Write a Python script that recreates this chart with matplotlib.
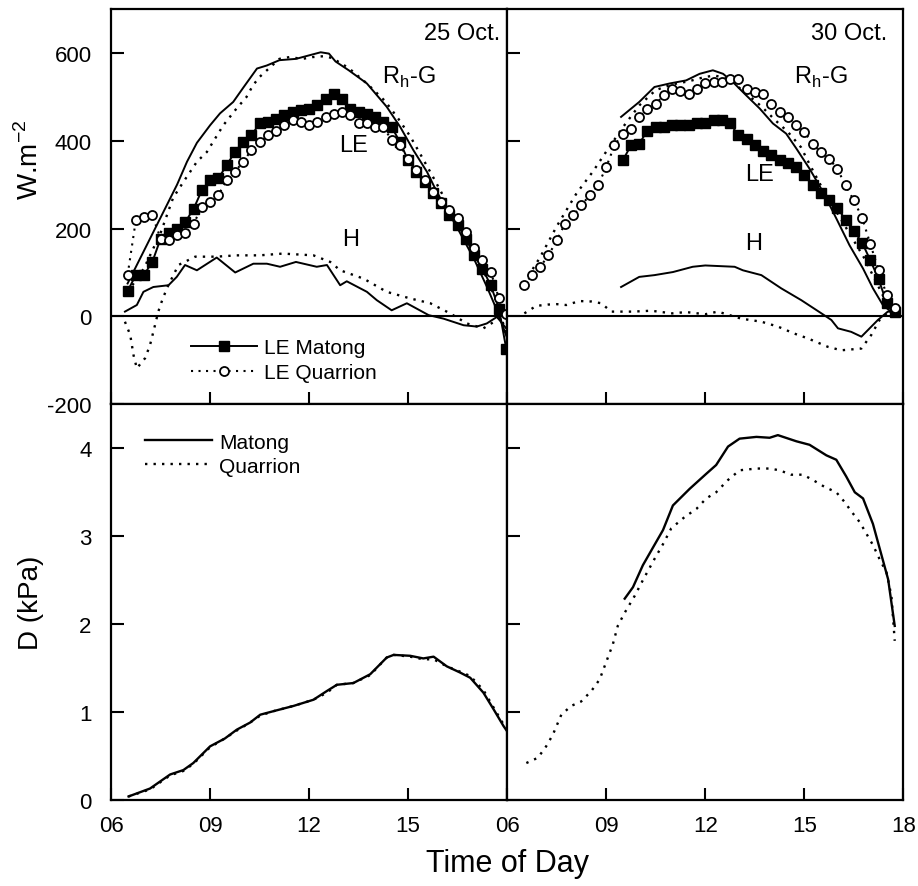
import matplotlib
matplotlib.use("Agg")
import matplotlib.pyplot as plt
from matplotlib.lines import Line2D

plt.rcParams["font.family"] = ["Liberation Sans", "DejaVu Sans"]
plt.rcParams["mathtext.fontset"] = "custom"
plt.rcParams["mathtext.rm"] = "Liberation Sans"

# ---- 25 Oct: energy fluxes (W m-2) ----
le_hours_25 = [6.5, 6.75, 7.0, 7.25, 7.5, 7.75, 8.0, 8.25, 8.5, 8.75, 9.0, 9.25, 9.5, 9.75,
               10.0, 10.25, 10.5, 10.75, 11.0, 11.25, 11.5, 11.75, 12.0, 12.25, 12.5, 12.75,
               13.0, 13.25, 13.5, 13.75, 14.0, 14.25, 14.5, 14.75, 15.0, 15.25, 15.5, 15.75,
               16.0, 16.25, 16.5, 16.75, 17.0, 17.25, 17.5, 17.75, 17.97]
le_matong_25 = [58, 94, 95, 124, 177, 189, 200, 215, 245, 287, 310, 314, 344, 374,
                397, 412, 439, 442, 450, 458, 465, 469, 473, 480, 495, 507,
                495, 473, 465, 461, 454, 442, 431, 397, 355, 329, 306, 280,
                257, 230, 208, 177, 139, 109, 71, 18, -73]
le_quarrion_25 = [94, 219, 227, 230, 177, 173, 185, 189, 211, 249, 261, 276, 310, 329,
                  352, 378, 397, 412, 423, 435, 446, 442, 435, 442, 454, 461,
                  465, 458, 439, 439, 431, 431, 401, 389, 359, 333, 310, 283,
                  261, 242, 223, 192, 155, 128, 102, 41, 5]

rn_hours_m25 = [6.5, 7.0, 7.5, 8.0, 8.3, 8.6, 9.0, 9.3, 9.7, 10.0, 10.42, 10.72, 11.1, 11.6,
                12.0, 12.35, 12.6, 12.8, 13.2, 13.75, 14.35, 14.76, 15.16, 15.57, 15.87,
                16.5, 17.0, 17.4, 17.74, 18.0]
rn_matong_25 = [75, 150, 225, 300, 352, 395, 435, 462, 488, 520, 564, 571, 583, 586,
                594, 601, 598, 580, 560, 530, 477, 431, 378, 329, 283,
                200, 130, 65, 5, -50]
rn_hours_q25 = [6.5, 7.0, 7.5, 7.88, 8.19, 8.6, 8.9, 9.4, 9.8, 10.1, 10.3, 10.5, 11.1, 11.4,
                11.8, 12.1, 12.43, 12.7, 13.2, 13.75, 14.3, 14.7, 15.06, 15.4, 15.77, 16.2,
                16.6, 17.0, 17.4, 17.7, 17.97]
rn_quarrion_25 = [55, 110, 190, 270, 306, 352, 374, 435, 473, 499, 526, 545, 586, 590,
                  586, 590, 592, 588, 565, 530, 490, 450, 410, 365, 315, 255,
                  200, 145, 85, 30, -40]

h_hours_m25 = [6.42, 6.78, 6.98, 7.28, 7.74, 7.99, 8.24, 8.6, 9.2, 9.76, 10.31, 10.72, 11.12,
               11.6, 12.23, 12.54, 12.94, 13.14, 13.75, 14.05, 14.5, 14.96, 15.62, 16.07,
               16.68, 17.08, 17.38, 17.69, 18.0]
h_matong_25 = [11, 26, 56, 67, 71, 90, 117, 105, 134, 100, 120, 120, 113,
               124, 113, 117, 71, 80, 56, 37, 14, 30, 3, -5,
               -20, -23, -16, -1, -30]
h_hours_q25 = [6.42, 6.58, 6.68, 6.78, 7.03, 7.18, 7.33, 7.43, 7.53, 7.69, 8.04, 8.55, 9.2,
               9.8, 10.5, 11.2, 12.13, 12.64, 12.94, 13.65, 14.35, 15.06, 15.67, 16.27,
               16.78, 17.28, 17.69, 17.99]
h_quarrion_25 = [-12, -42, -88, -118, -95, -65, -20, 11, 33, 64, 117, 136, 136,
                 139, 139, 143, 139, 124, 105, 86, 56, 41, 30, 7,
                 -16, -27, -8, 11]

# ---- 30 Oct: energy fluxes (W m-2) ----
lq_hours_30 = [6.5, 6.75, 7.0, 7.25, 7.5, 7.75, 8.0, 8.25, 8.5, 8.75, 9.0, 9.25, 9.5, 9.75,
               10.0, 10.25, 10.5, 10.75, 11.0, 11.25, 11.5, 11.75, 12.0, 12.25, 12.5, 12.75,
               13.0, 13.25, 13.5, 13.75, 14.0, 14.25, 14.5, 14.75, 15.0, 15.25, 15.5, 15.75,
               16.0, 16.25, 16.5, 16.75, 17.0, 17.25, 17.5, 17.75]
le_quarrion_30 = [71, 94, 113, 139, 173, 211, 230, 253, 276, 298, 340, 389, 416, 427,
                  454, 473, 484, 503, 518, 514, 507, 518, 530, 533, 533, 541,
                  541, 518, 511, 507, 484, 465, 454, 435, 420, 393, 374, 359,
                  336, 298, 264, 225, 165, 105, 48, 20]
lm_hours_30 = [9.5, 9.75, 10.0, 10.25, 10.5, 10.75, 11.0, 11.25, 11.5, 11.75, 12.0, 12.25,
               12.5, 12.75, 13.0, 13.25, 13.5, 13.75, 14.0, 14.25, 14.5, 14.75, 15.0, 15.25,
               15.5, 15.75, 16.0, 16.25, 16.5, 16.75, 17.0, 17.25, 17.5, 17.75]
le_matong_30 = [355, 389, 393, 423, 431, 431, 435, 435, 435, 439, 441, 447,
                447, 440, 412, 403, 390, 376, 367, 357, 350, 340, 322, 300,
                281, 266, 247, 220, 195, 168, 128, 85, 30, 10]

rn_hours_m30 = [9.45, 10.0, 10.46, 10.92, 11.42, 11.83, 12.23, 12.54, 12.84, 13.24, 13.65,
                14.05, 14.45, 14.76, 15.16, 15.57, 15.97, 16.37, 16.78, 17.08, 17.38, 17.69]
rn_matong_30 = [454, 488, 522, 530, 537, 552, 560, 552, 533, 503, 473,
                439, 416, 382, 336, 283, 223, 162, 109, 64, 26, 7]
rn_hours_q30 = [6.5, 7.0, 7.5, 8.1, 8.6, 9.0, 9.5, 10.0, 10.5, 11.0, 11.5, 12.0, 12.3, 12.7,
                13.2, 13.7, 14.1, 14.5, 14.9, 15.1, 15.5, 16.0, 16.4, 16.8, 17.1, 17.4, 17.7]
rn_quarrion_30 = [75, 135, 205, 280, 330, 375, 430, 480, 515, 528, 535, 545, 548, 540,
                  510, 478, 448, 420, 385, 355, 298, 235, 185, 135, 90, 45, 10]

h_hours_m30 = [9.45, 10.0, 10.46, 11.02, 11.62, 12.0, 12.89, 13.14, 13.7, 14.3, 14.91, 15.52,
               15.82, 16.02, 16.42, 16.73, 17.23, 17.53, 17.7]
h_matong_30 = [67, 90, 94, 101, 113, 116, 113, 105, 94, 64, 37, 7,
               -8, -27, -35, -46, -8, 11, 10]
h_hours_q30 = [6.52, 6.88, 7.23, 7.5, 7.79, 8.19, 8.55, 8.85, 9.15, 9.8, 10.36, 11.0, 11.42,
               12.0, 12.38, 13.09, 13.7, 14.2, 14.7, 15.11, 15.71, 16.12, 16.73, 17.03,
               17.28, 17.53]
h_quarrion_30 = [7, 24, 27, 28, 26, 35, 34, 30, 11, 11, 13, 7, 10,
                 5, 11, -5, -12, -23, -39, -50, -69, -77, -73, -42,
                 -8, 7]

# ---- vapour pressure deficit D (kPa) ----
d_hours_m25 = [6.53, 7.18, 7.79, 8.19, 8.49, 9.0, 9.45, 9.81, 10.21, 10.52, 10.92, 11.53,
               12.13, 12.54, 12.84, 13.34, 13.85, 14.35, 14.56, 15.06, 15.46, 15.77, 16.17,
               16.57, 16.88, 17.28, 17.59, 17.89, 18.0]
d_matong_25 = [0.04, 0.13, 0.29, 0.34, 0.42, 0.61, 0.70, 0.80, 0.88, 0.97, 1.01, 1.07,
               1.14, 1.24, 1.31, 1.33, 1.43, 1.62, 1.65, 1.64, 1.61, 1.63, 1.52,
               1.45, 1.39, 1.22, 1.03, 0.84, 0.78]
d_quarrion_25 = [0.04, 0.12, 0.28, 0.33, 0.41, 0.60, 0.70, 0.79, 0.88, 0.96, 1.01, 1.07,
                 1.14, 1.22, 1.31, 1.33, 1.42, 1.62, 1.65, 1.63, 1.60, 1.60, 1.52,
                 1.46, 1.41, 1.25, 1.05, 0.86, 0.80]

d_hours_m30 = [9.56, 9.81, 10.11, 10.46, 10.72, 11.02, 11.53, 12.03, 12.33, 12.69, 13.04,
               13.55, 13.95, 14.2, 14.76, 15.16, 15.67, 15.97, 16.27, 16.53, 16.78, 17.08,
               17.54, 17.74]
d_matong_30 = [2.29, 2.42, 2.67, 2.90, 3.07, 3.35, 3.54, 3.71, 3.81, 4.02, 4.11,
               4.13, 4.12, 4.15, 4.08, 4.04, 3.92, 3.87, 3.68, 3.50, 3.43, 3.14,
               2.51, 1.98]
d_hours_q30 = [6.58, 6.93, 7.18, 7.38, 7.64, 7.94, 8.24, 8.55, 8.8, 9.05, 9.2, 9.35, 9.56,
               9.86, 10.11, 10.46, 10.72, 10.97, 11.38, 11.73, 12.03, 12.33, 12.69, 13.04,
               13.55, 13.95, 14.25, 14.6, 14.96, 15.26, 15.62, 15.97, 16.22, 16.43, 16.68,
               16.88, 17.08, 17.28, 17.49, 17.64, 17.74]
d_quarrion_30 = [0.42, 0.48, 0.61, 0.74, 0.97, 1.07, 1.12, 1.24, 1.37, 1.62, 1.77, 1.98, 2.13,
                 2.32, 2.50, 2.74, 2.91, 3.09, 3.22, 3.31, 3.43, 3.50, 3.64, 3.75,
                 3.77, 3.77, 3.75, 3.70, 3.70, 3.64, 3.56, 3.50, 3.39, 3.28, 3.16,
                 3.03, 2.90, 2.74, 2.59, 2.32, 1.81]

flux_ticks = [-200, 0, 200, 400, 600]
d_ticks = [0, 1, 2, 3, 4]
hour_ticks = [6, 9, 12, 15, 18]
hour_labels = ["06", "09", "12", "15", "18"]

LW = 1.4
DOT = (0, (1, 2.6))
TICKFS = 16

fig, axes = plt.subplots(2, 2, figsize=(9.18, 8.87), dpi=100)
fig.subplots_adjust(left=0.121, right=0.984, top=0.989, bottom=0.097, hspace=0, wspace=0)
(ax1, ax2), (ax3, ax4) = axes

sq = dict(color="black", lw=LW, marker="s", ms=6.5, mfc="black", mec="black")
ci = dict(color="black", lw=1.5, ls=DOT, marker="o", ms=6.5, mfc="white", mec="black", mew=1.3)

# top left
ax1.axhline(0, color="black", lw=1.5, zorder=1)
ax1.plot(rn_hours_m25, rn_matong_25, color="black", lw=LW)
ax1.plot(rn_hours_q25, rn_quarrion_25, color="black", lw=1.7, ls=DOT)
ax1.plot(h_hours_m25, h_matong_25, color="black", lw=LW)
ax1.plot(h_hours_q25, h_quarrion_25, color="black", lw=1.7, ls=DOT)
ax1.plot(le_hours_25, le_matong_25, **sq)
ax1.plot(le_hours_25, le_quarrion_25, **ci)

# top right
ax2.axhline(0, color="black", lw=1.5, zorder=1)
ax2.plot(rn_hours_m30, rn_matong_30, color="black", lw=LW)
ax2.plot(rn_hours_q30, rn_quarrion_30, color="black", lw=1.7, ls=DOT)
ax2.plot(h_hours_m30, h_matong_30, color="black", lw=LW)
ax2.plot(h_hours_q30, h_quarrion_30, color="black", lw=1.7, ls=DOT)
ax2.plot(lm_hours_30, le_matong_30, **sq)
ax2.plot(lq_hours_30, le_quarrion_30, **ci)

# bottom
ax3.plot(d_hours_m25, d_matong_25, color="black", lw=1.7)
ax3.plot(d_hours_m25, d_quarrion_25, color="black", lw=1.7, ls=DOT)
ax4.plot(d_hours_m30, d_matong_30, color="black", lw=1.7)
ax4.plot(d_hours_q30, d_quarrion_30, color="black", lw=1.7, ls=DOT)

for ax in (ax1, ax2):
    ax.set_ylim(-200, 700)
    ax.set_yticks(flux_ticks)
for ax in (ax3, ax4):
    ax.set_ylim(0, 4.5)
    ax.set_yticks(d_ticks)

for ax in axes.flat:
    ax.set_xlim(6, 18)
    ax.set_xticks(hour_ticks)
    ax.tick_params(direction="in", length=9, width=1.5, labelsize=TICKFS)
    ax.tick_params(axis="y", pad=14)
    ax.tick_params(axis="x", pad=11)
    for s in ax.spines.values():
        s.set_linewidth(1.6)

for ax in (ax1, ax2):
    ax.tick_params(labelbottom=False)
ax2.tick_params(labelleft=False)
ax4.tick_params(labelleft=False)
ax3.set_xticklabels(hour_labels[:4] + [""])
ax4.set_xticklabels(hour_labels)
ax1.set_yticklabels([str(v) for v in flux_ticks])

ax1.set_ylabel("W.m$^{-2}$", fontsize=20)
ax3.set_ylabel("D (kPa)", fontsize=20)
ax1.yaxis.set_label_coords(-0.17, 0.62)
ax3.yaxis.set_label_coords(-0.17, 0.5)
fig.text(0.553, 0.026, "Time of Day", ha="center", va="center", fontsize=22)

# panel annotations
txt = dict(fontsize=17, color="black")
ax1.text(17.8, 645, "25 Oct.", ha="right", va="center", **txt)
ax1.text(14.2, 545, "R$_\\mathregular{h}$-G", ha="left", va="center", **txt)
ax1.text(12.9, 390, "LE", ha="left", va="center", **txt)
ax1.text(13.0, 177, "H", ha="left", va="center", **txt)
ax2.text(17.5, 645, "30 Oct.", ha="right", va="center", **txt)
ax2.text(14.7, 545, "R$_\\mathregular{h}$-G", ha="left", va="center", **txt)
ax2.text(13.2, 325, "LE", ha="left", va="center", **txt)
ax2.text(13.2, 166, "H", ha="left", va="center", **txt)

# legends
h_le = [Line2D([], [], **sq), Line2D([], [], **ci)]
ax1.legend(h_le, ["LE Matong", "LE Quarrion"], loc="lower left", bbox_to_anchor=(0.175, 0.03),
           frameon=False, fontsize=15, handlelength=3.2, handletextpad=0.3,
           labelspacing=0.3, numpoints=1, borderpad=0)
h_d = [Line2D([], [], color="black", lw=1.7), Line2D([], [], color="black", lw=1.7, ls=DOT)]
ax3.legend(h_d, ["Matong", "Quarrion"], loc="upper left", bbox_to_anchor=(0.06, 0.955),
           frameon=False, fontsize=15, handlelength=3.2, handletextpad=0.35,
           labelspacing=0.25, borderpad=0)

fig.savefig("out.png", dpi=100)
